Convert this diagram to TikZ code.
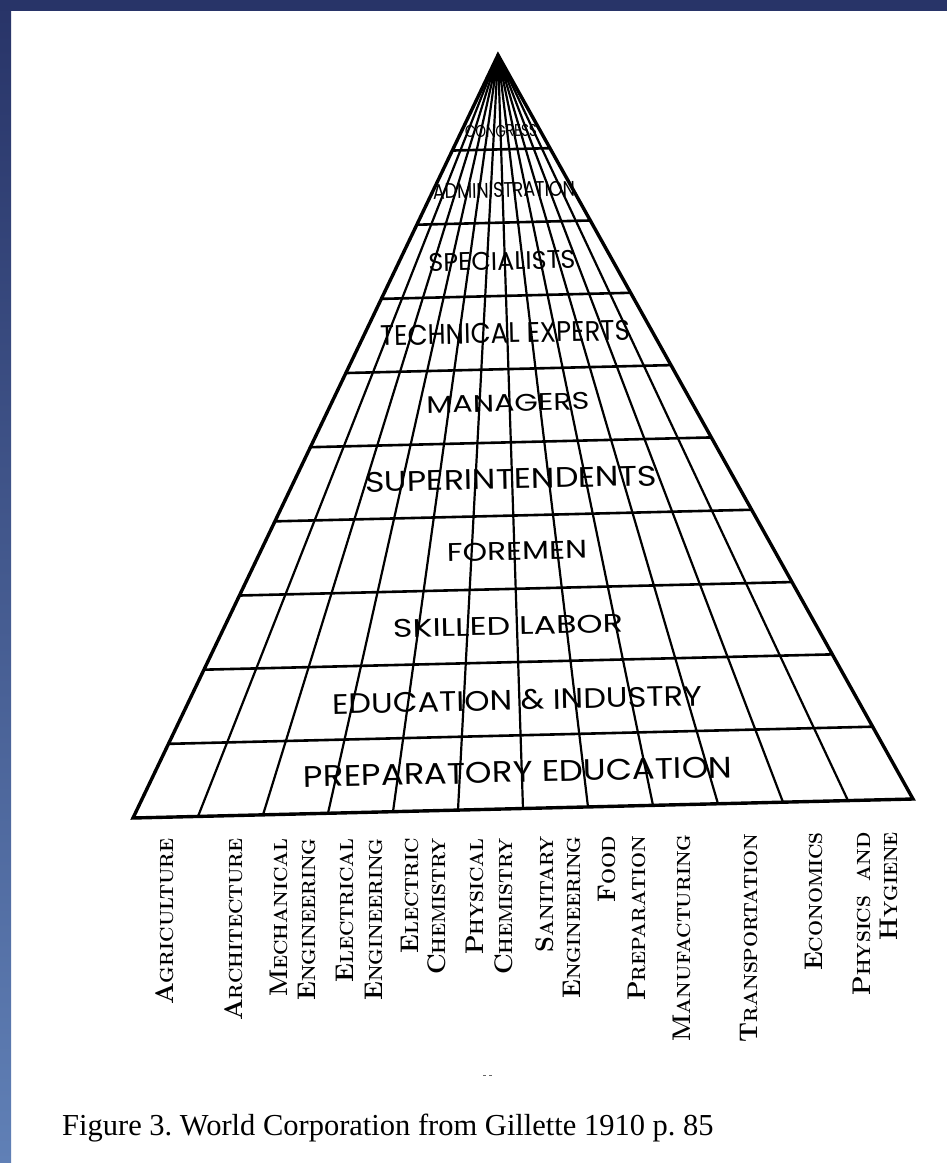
\documentclass[tikz,border=0pt]{standalone}
\usepackage{fontspec}
\newfontfamily\captionfont{Liberation Serif}
\newfontfamily\letterfont{Poppins}
\usetikzlibrary{calc}
\definecolor{framedark}{HTML}{283468}
\definecolor{framelight}{HTML}{6080B6}

% hand-lettered tier name squeezed into a given width and cap height
\newcommand\tiername[3]{\resizebox{#1pt}{#2pt}{\letterfont #3}}
% bold small capitals: large initial, smaller remainder
\newcommand\fsc[2]{{\fontsize{25.5}{25.5}\selectfont #1}{\fontsize{19}{19}\selectfont #2}}

\tikzset{
  rim/.style={line width=3.4pt, line join=miter},
  ray/.style={line width=2.2pt},
  rung/.style={line width=2.6pt},
  tier/.style={inner sep=0pt, rotate=1.3},
  field/.style={inner sep=0pt, rotate=90, anchor=base east, font=\bfseries},
}

\begin{document}
\frenchspacing
\begin{tikzpicture}[x=1pt, y=-1pt]
  \useasboundingbox (0,0) rectangle (947,1163);
  \fill[white] (0,0) rectangle (947,1163);
  % slide frame
  \shade[top color=framedark, bottom color=framelight] (0,0) rectangle (11,1163);
  \fill[framedark] (0,0) rectangle (947,11);

  % pyramid corners
  \coordinate (A) at (498,55);
  \coordinate (L) at (133,818);
  \coordinate (R) at (913,799);

  % base divisions and converging rays
  \foreach \k in {0,...,12} \coordinate (b\k) at ($(L)!\k/12!(R)$);
  \foreach \k in {1,...,11} \draw[ray] (b\k) -- (A);

  % tier boundaries
  \foreach \i in {1,...,9} {
    \coordinate (l\i) at ($(L)!\i*0.0972!(A)$);
    \coordinate (r\i) at ($(R)!\i*0.0972!(A)$);
    \draw[rung] (l\i) -- (r\i);
  }

  % outline and inked tip
  \draw[rim] (L) -- (A) -- (R) -- cycle;
  \coordinate (tl) at ($(L)!0.965!(A)$);
  \coordinate (tr) at ($(R)!0.965!(A)$);
  \fill (tl) -- (A) -- (tr) -- cycle;

  % tier names
  \node[tier] (congress) at (501,131) {\tiername{72}{12}{CONGRESS}};
  \node[tier] (admin)    at (504,190) {\tiername{142}{15}{ADMINISTRATION}};
  \node[tier] (spec)     at (502,261) {\tiername{147}{18}{SPECIALISTS}};
  \node[tier] (tech)     at (505,333) {\tiername{250}{20}{TECHNICAL EXPERTS}};
  \node[tier] (mgr)      at (508,403) {\tiername{163}{17}{MANAGERS}};
  \node[tier] (supt)     at (511,479) {\tiername{292}{20}{SUPERINTENDENTS}};
  \node[tier] (fore)     at (517,551) {\tiername{140}{18}{FOREMEN}};
  \node[tier] (skill)    at (508,626) {\tiername{230}{18}{SKILLED LABOR}};
  \node[tier] (eduind)   at (517,700) {\tiername{370}{20}{EDUCATION \& INDUSTRY}};
  \node[tier] (prep)     at (518,772) {\tiername{429}{21}{PREPARATORY EDUCATION}};

  % fields along the base
  \node[field] (agri)   at (173,838) {\fsc{A}{GRICULTURE}};
  \node[field] (arch)   at (242,838) {\fsc{A}{RCHITECTURE}};
  \node[field] (mech1)  at (287,838) {\fsc{M}{ECHANICAL}};
  \node[field] (mech2)  at (315,838) {\fsc{E}{NGINEERING}};
  \node[field] (elec1)  at (353,838) {\fsc{E}{LECTRICAL}};
  \node[field] (elec2)  at (382,838) {\fsc{E}{NGINEERING}};
  \node[field] (echem1) at (418,838) {\fsc{E}{LECTRIC}};
  \node[field] (echem2) at (445,838) {\fsc{C}{HEMISTRY}};
  \node[field] (pchem1) at (483,838) {\fsc{P}{HYSICAL}};
  \node[field] (pchem2) at (512,838) {\fsc{C}{HEMISTRY}};
  \node[field] (san1)   at (553,836) {\fsc{S}{ANITARY}};
  \node[field] (san2)   at (580,836) {\fsc{E}{NGINEERING}};
  \node[field] (food1)  at (615,836) {\fsc{F}{OOD}};
  \node[field] (food2)  at (645,836) {\fsc{P}{REPARATION}};
  \node[field] (manu)   at (690,834) {\fsc{M}{ANUFACTURING}};
  \node[field] (trans)  at (757,834) {\fsc{T}{RANSPORTATION}};
  \node[field] (econ)   at (822,832) {\fsc{E}{CONOMICS}};
  \node[field] (phys1)  at (870,832) {\fsc{P}{HYSICS\ \ AND}};
  \node[field] (phys2)  at (897,832) {\fsc{H}{YGIENE}};

  % small stray mark below the fields
  \draw[line width=1pt, black!60] (483,1075) -- (486,1075) (489,1075) -- (492,1075);

  % caption
  \node[anchor=base west, inner sep=0pt, font=\captionfont\fontsize{30.5}{30.5}\selectfont]
    (caption) at (62,1135) {Figure 3. World Corporation from Gillette 1910 p. 85};
\end{tikzpicture}
\end{document}
